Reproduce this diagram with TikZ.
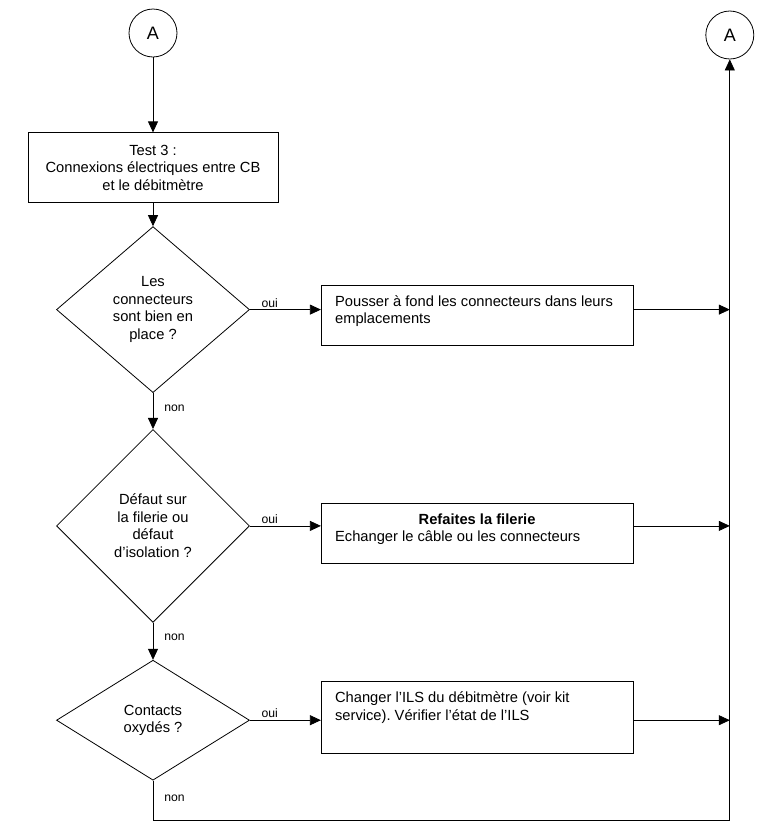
\documentclass[tikz,border=0pt]{standalone}
\usepackage{fontspec}
\setmainfont{Liberation Sans}
\frenchspacing
\usetikzlibrary{arrows.meta, positioning, shapes.geometric, calc}

\begin{document}
\begin{tikzpicture}[
    x=1pt, y=-1pt,
    font=\fontsize{14.7}{17.5}\selectfont,
    connector/.style={circle, draw, line width=0.8pt, minimum size=48pt, inner sep=0pt,
                  font=\fontsize{18}{20}\selectfont},
    process/.style={rectangle, draw, line width=0.8pt, minimum width=250pt,
                  minimum height=70pt, align=center},
    decision/.style={diamond, draw, line width=0.8pt, minimum width=193pt,
                  inner sep=1pt, align=center},
    action/.style={rectangle, draw, line width=0.8pt, minimum width=312pt},
    actiontext/.style={anchor=north west, inner sep=0pt, align=left},
    answer/.style={font=\fontsize{12.2}{14}\selectfont, inner sep=2pt},
    arrow/.style={-{Triangle[length=11pt,width=10pt]}, line width=0.8pt}
]
\useasboundingbox (0,0) rectangle (782,839);

\node[connector] (cA1) at (153,33) {A};
\node[connector, right=528pt of cA1, yshift=-2pt] (cA2) {A};
\node[process, below=75pt of cA1] (test) {Test 3 :\\Connexions électriques entre CB\\et le débitmètre};
\node[decision, minimum height=166pt, below=23pt of test] (d1) {Les\\connecteurs\\sont bien en\\place ?};
\node[decision, minimum height=193pt, below=36pt of d1] (d2) {Défaut sur\\la filerie ou\\défaut\\d’isolation ?};
\node[decision, minimum height=120pt, below=37pt of d2] (d3) {Contacts\\oxydés ?};

\node[action, minimum height=60pt, right=71pt of d1, yshift=-6pt] (act1) {};
\node[action, minimum height=60pt, right=71pt of d2, yshift=-7pt] (act2) {};
\node[action, minimum height=72pt, right=71pt of d3, yshift=3pt] (act3) {};
\node[actiontext] (act1t) at ($(act1.north west)+(14,10)$)
    {Pousser à fond les connecteurs dans leurs\\emplacements};
\node[actiontext] (act2t) at ($(act2.north west)+(14,11)$)
    {\makebox[284pt]{\bfseries Refaites la filerie}\\Echanger le câble ou les connecteurs};
\node[actiontext] (act3t) at ($(act3.north west)+(14,11)$)
    {Changer l’ILS du débitmètre (voir kit\\service). Vérifier l’état de l’ILS};

\coordinate (bot) at ($(d3.south)+(0,40)$);

\draw[arrow] (cA1) -- (test);
\draw[arrow] (test) -- (d1);
\draw[arrow] (d1.east) -- node[answer, above, pos=0.28] {oui} (d1.east -| act1.west);
\draw[arrow] (d1) -- node[answer, right=9pt, pos=0.42] {non} (d2);
\draw[arrow] (d2.east) -- node[answer, above, pos=0.28] {oui} (d2.east -| act2.west);
\draw[arrow] (d2) -- node[answer, right=9pt, pos=0.4] {non} (d3);
\draw[arrow] (d3.east) -- node[answer, above, pos=0.28] {oui} (d3.east -| act3.west);
\draw[arrow] (d3) -- node[answer, right=9pt, pos=0.45] {non} (bot) -| (cA2);

\draw[arrow] (act1.east |- d1.east) -- (cA2 |- d1.east);
\draw[arrow] (act2.east |- d2.east) -- (cA2 |- d2.east);
\draw[arrow] (act3.east |- d3.east) -- (cA2 |- d3.east);
\end{tikzpicture}
\end{document}
